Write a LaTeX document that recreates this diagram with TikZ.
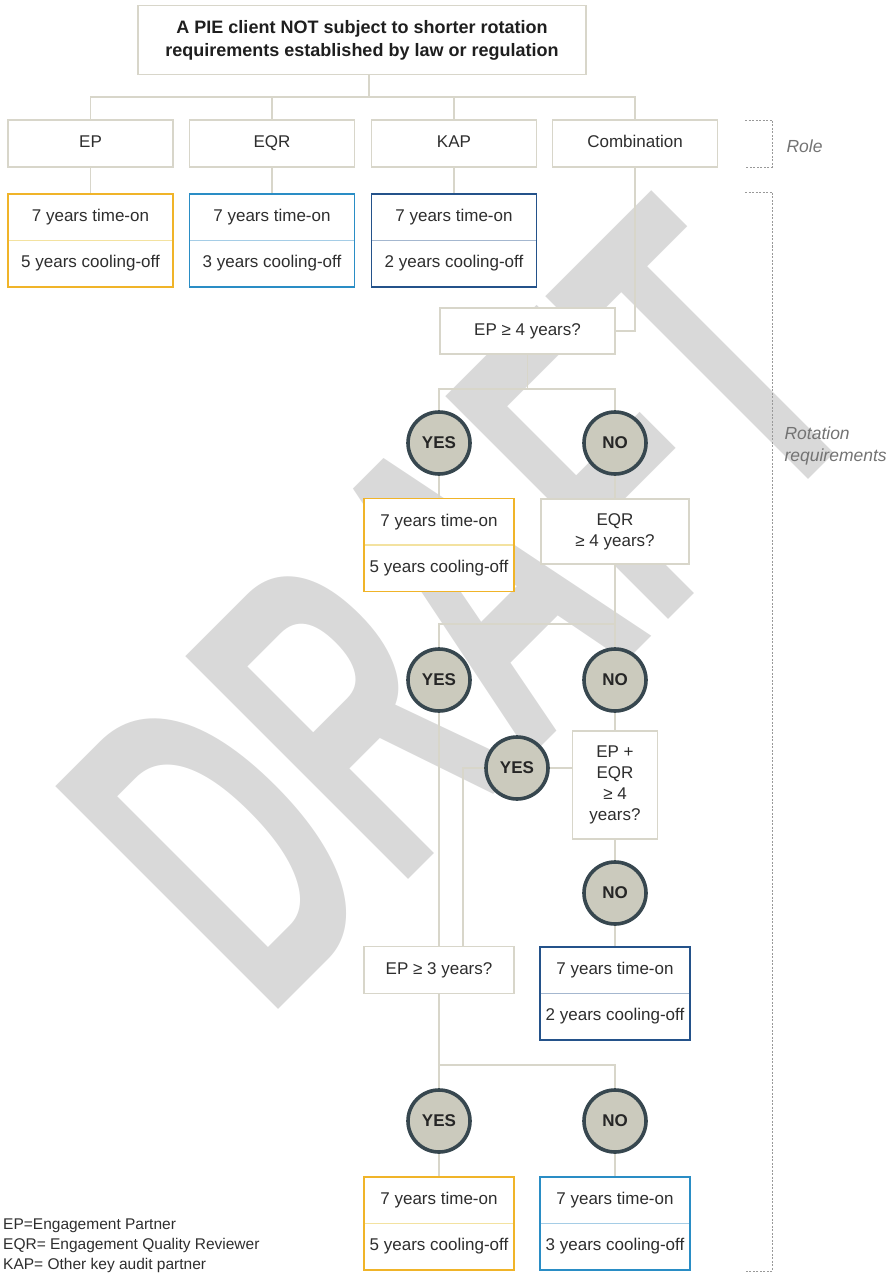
\documentclass[tikz,border=0pt]{standalone}
\usepackage{fontspec}
\setmainfont{Liberation Sans}
\usetikzlibrary{calc}

\definecolor{linegray}{HTML}{D8D6CA}
\definecolor{txtgray}{HTML}{2E2E2E}
\definecolor{epyel}{HTML}{F0B429}
\definecolor{epyelL}{HTML}{F3E2A0}
\definecolor{eqrblu}{HTML}{2A8DC5}
\definecolor{eqrbluL}{HTML}{A5CDE6}
\definecolor{kapblu}{HTML}{24528A}
\definecolor{kapbluL}{HTML}{A4B7CF}
\definecolor{dotfill}{HTML}{CBCABD}
\definecolor{rimgray}{HTML}{37474F}

\pgfdeclarelayer{wmark}
\pgfdeclarelayer{lines}
\pgfsetlayers{wmark,lines,main}

\tikzset{
	qbox/.style={draw=linegray, line width=1.8pt, fill=white, text=txtgray, align=center, inner sep=0pt, font=\fontsize{17}{21}\selectfont},
	rolebox/.style={qbox, minimum width=165pt, minimum height=47pt, text height=12pt, text depth=3.5pt},
	rulebox/.style={draw=#1, line width=1.8pt, fill=white, text=txtgray, align=center, inner sep=0pt, minimum height=93pt, font=\fontsize{17}{46}\selectfont},
	answer/.style={circle, draw=rimgray, line width=3.6pt, fill=dotfill, minimum size=62pt, inner sep=0pt, text=black!85, font=\bfseries\fontsize{17}{19}\selectfont},
	link/.style={draw=linegray, line width=1.4pt},
	brace/.style={draw=black!40, line width=0.9pt, dash pattern=on 2pt off 1.5pt},
	sidelabel/.style={anchor=west, align=left, text=black!55, font=\itshape\fontsize{17.5}{22}\selectfont},
}

% two-part outcome card: name, colour, position, width, second line
\def\rulecard(#1)[#2](#3)#4#5{%
	\node[rulebox=#2, minimum width=#4] (#1) at (#3) {7 years time-on\\#5};
	\draw[#2L, line width=1.2pt] ([xshift=1.5pt]#1.west) -- ([xshift=-1.5pt]#1.east);
}

\begin{document}
\begin{tikzpicture}[x=1pt, y=-1pt]
			%%%%% START %%%%%
			\useasboundingbox (0,0) rectangle (890,1273);
			
			\node[qbox, minimum width=448pt, minimum height=69pt, text=black!88, font=\bfseries\fontsize{18}{23}\selectfont] (title) at (362,40) {A PIE client NOT subject to shorter rotation\\requirements established by law or regulation};
			
			\node[rolebox] (ep) at (90.5,143.5) {EP};
			\node[rolebox] (eqr) at (272,143.5) {EQR};
			\node[rolebox] (kap) at (454,143.5) {KAP};
			\node[rolebox] (comb) at (635,143.5) {Combination};
			
			\rulecard(r1)[epyel](90.5,240.5){165pt}{5 years cooling-off}
			\rulecard(r2)[eqrblu](272,240.5){165pt}{3 years cooling-off}
			\rulecard(r3)[kapblu](454,240.5){165pt}{2 years cooling-off}
			
			\node[qbox, minimum width=175pt, minimum height=46pt] (q1) at (527.5,331) {EP ≥ 4 years?};
			\node[answer] (yes1) at (439,443) {YES};
			\node[answer] (no1) at (615,443) {NO};
			
			\rulecard(r4)[epyel](439,545){150pt}{5 years cooling-off}
			\node[qbox, minimum width=148pt, minimum height=65pt] (q2) at (615,531.5) {EQR\\≥ 4 years?};
			
			\node[answer] (yes2) at (439,680) {YES};
			\node[answer] (no2) at (615,680) {NO};
			
			\node[qbox, minimum width=85pt, minimum height=108pt] (q3) at (615,785) {EP +\\EQR\\≥ 4\\years?};
			\node[answer] (yes3) at (517,768) {YES};
			\node[answer] (no3) at (615,893) {NO};
			
			\node[qbox, minimum width=150pt, minimum height=47pt] (q4) at (439,970) {EP ≥ 3 years?};
			\rulecard(r5)[kapblu](615,993.5){150pt}{2 years cooling-off}
			
			\node[answer] (yes4) at (439,1121) {YES};
			\node[answer] (no4) at (615,1121) {NO};
			\rulecard(r6)[epyel](439,1223.5){150pt}{5 years cooling-off}
			\rulecard(r7)[eqrblu](615,1223.5){150pt}{3 years cooling-off}
			
			% legend and side brackets
			\node[anchor=north west, align=left, inner sep=0pt, text=txtgray, font=\fontsize{15.5}{20}\selectfont] (legend) at (3,1219) {EP=Engagement Partner\\EQR= Engagement Quality Reviewer\\KAP= Other key audit partner};
			
			\draw[brace] (745,120) -| (772,167) -- (745,167);
			\node[sidelabel] (rolelbl) at (783,146) {Role};
			\draw[brace] (745,192) -| (772,1271) -- (745,1271);
			\node[sidelabel] (rotlbl) at (781,446) {Rotation\\requirements};
			
			\begin{pgfonlayer}{lines}
				\coordinate (hub) at (369,97);
				\draw[link] (title.south -| hub) -- (hub);
				\draw[link] (ep) |- (hub) -| (comb);
				\draw[link] (eqr) -- (eqr |- hub);
				\draw[link] (kap) -- (kap |- hub);
				\draw[link] (ep) -- (r1);
				\draw[link] (eqr) -- (r2);
				\draw[link] (kap) -- (r3);
				
				\draw[link] (comb) |- (q1);
				\draw[link] (q1) -- ++(0,58) coordinate (j1);
				\draw[link] (yes1) |- (j1) -| (no1);
				\draw[link] (yes1) -- (r4);
				\draw[link] (no1) -- (q2);
				
				\draw[link] (q2) -- ++(0,92.5) coordinate (j2);
				\draw[link] (yes2) |- (j2) -| (no2);
				\draw[link] (no2) -- (q3) -- (no3) -- (r5);
				\draw[link] (q3.west |- yes3) -- (yes3);
				\draw[link] (yes3) -| ([xshift=24pt]q4.north);
				\draw[link] (yes2) -- (q4);
				
				\draw[link] (q4) -- ++(0,95) coordinate (j3);
				\draw[link] (yes4) |- (j3) -| (no4);
				\draw[link] (yes4) -- (r6);
				\draw[link] (no4) -- (r7);
			\end{pgfonlayer}
			
			\begin{pgfonlayer}{wmark}
				\node[rotate=45, inner sep=0pt, text=black!15, font=\bfseries\fontsize{458}{458}\selectfont] (wm) at (460,605) {\scalebox{0.556}[1]{DRAFT}};
			\end{pgfonlayer}
			%%%%% END %%%%%
\end{tikzpicture}
\end{document}
